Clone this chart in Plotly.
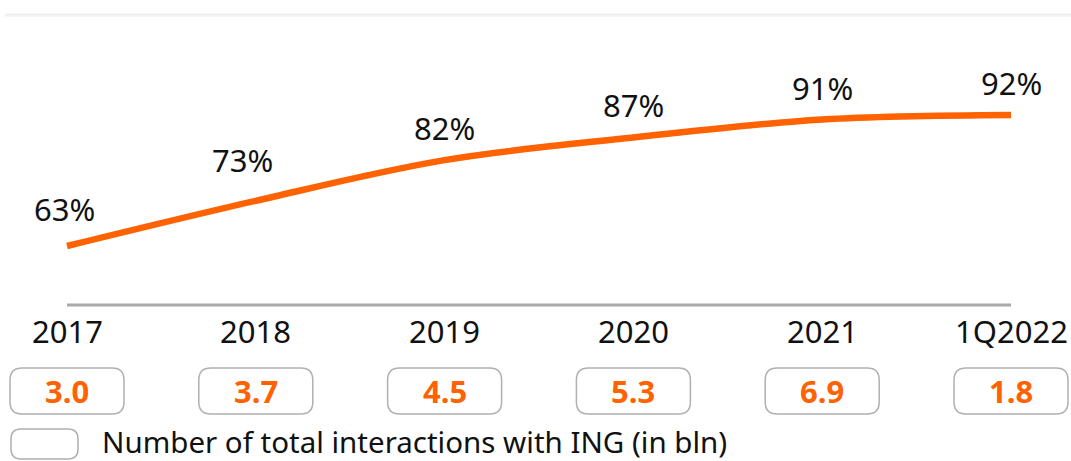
import plotly.graph_objects as go

categories = ["2017", "2018", "2019", "2020", "2021", "1Q2022"]
digital_share = [63, 73, 82, 87, 91, 92]
interactions_bln = [3.0, 3.7, 4.5, 5.3, 6.9, 1.8]
legend_text = "Number of total interactions with ING (in bln)"

ORANGE = "#FF6200"
FONT = "Noto Sans"
W, H = 1071, 461

idx = list(range(len(categories)))

fig = go.Figure()
fig.add_trace(go.Scatter(
    x=idx, y=digital_share, mode="lines",
    line=dict(color=ORANGE, width=6.5, shape="spline", smoothing=1.0),
    hoverinfo="skip", showlegend=False,
))

# percentage labels above the points (pixel offsets are styling)
label_xshift = [-3, -13, 0, 0, 0, 0]
label_yshift = [37, 41, 32, 33, 31, 32]
for i, v in zip(idx, digital_share):
    fig.add_annotation(x=i, y=v, text=f"{v}%", showarrow=False,
                       xshift=label_xshift[i], yshift=label_yshift[i],
                       xanchor="center", yanchor="middle",
                       font=dict(family=FONT, size=31, color="#111111"))

# category labels
for i, c in zip(idx, categories):
    fig.add_annotation(x=i, y=1 - 331 / H, yref="paper", text=c, showarrow=False,
                       xanchor="center", yanchor="middle",
                       font=dict(family=FONT, size=31, color="#111111"))

def rrect(w, h, r):
    x0, x1, y0, y1 = -w / 2, w / 2, -h / 2, h / 2
    return (f"M{x0 + r},{y0} L{x1 - r},{y0} Q{x1},{y0} {x1},{y0 + r} "
            f"L{x1},{y1 - r} Q{x1},{y1} {x1 - r},{y1} L{x0 + r},{y1} "
            f"Q{x0},{y1} {x0},{y1 - r} L{x0},{y0 + r} Q{x0},{y0} {x0 + r},{y0} Z")

# value boxes
box_y = 1 - 391 / H
for i, v in zip(idx, interactions_bln):
    fig.add_shape(type="path", path=rrect(114, 46, 12), xref="x", yref="paper",
                  xsizemode="pixel", ysizemode="pixel", xanchor=i, yanchor=box_y,
                  line=dict(color="#b0b0b0", width=1.5), fillcolor="white", layer="below")
    fig.add_annotation(x=i, y=box_y, yref="paper", text=f"<b>{v:.1f}</b>", showarrow=False,
                       xanchor="center", yanchor="middle",
                       font=dict(family=FONT, size=31, color=ORANGE))

# legend box + text
leg_y = 1 - 444 / H
fig.add_shape(type="path", path=rrect(67, 30, 10), xref="paper", yref="paper",
              xsizemode="pixel", ysizemode="pixel", xanchor=44.5 / W, yanchor=leg_y,
              line=dict(color="#b0b0b0", width=1.5), fillcolor="white")
fig.add_annotation(x=101 / W, y=1 - 441 / H, xref="paper", yref="paper", xanchor="left",
                   yanchor="middle", text=legend_text, showarrow=False, borderpad=0,
                   font=dict(family=FONT, size=29.5, color="#111111"))

# top separator and axis baseline
fig.add_shape(type="line", xref="paper", yref="paper", x0=5 / W, x1=1,
              y0=1 - 15 / H, y1=1 - 15 / H, line=dict(color="#f0f0f0", width=3))
fig.add_shape(type="line", xref="x", yref="paper", x0=idx[0], x1=idx[-1],
              y0=1 - 305 / H, y1=1 - 305 / H, line=dict(color="#aaaaaa", width=3))

px_per_unit = 188.8
r0 = -67 / px_per_unit
r1 = r0 + W / px_per_unit
py = 4.52
y1 = 63 + 246 / py
y0 = y1 - H / py

fig.update_layout(
    width=W, height=H, margin=dict(l=0, r=0, t=0, b=0),
    paper_bgcolor="white", plot_bgcolor="white",
    xaxis=dict(range=[r0, r1], visible=False, fixedrange=True),
    yaxis=dict(range=[y0, y1], visible=False, fixedrange=True),
    showlegend=False,
)

fig.write_html("out.html", config={"displayModeBar": False},
               post_script="document.body.style.margin='0';document.body.style.overflow='hidden';")
